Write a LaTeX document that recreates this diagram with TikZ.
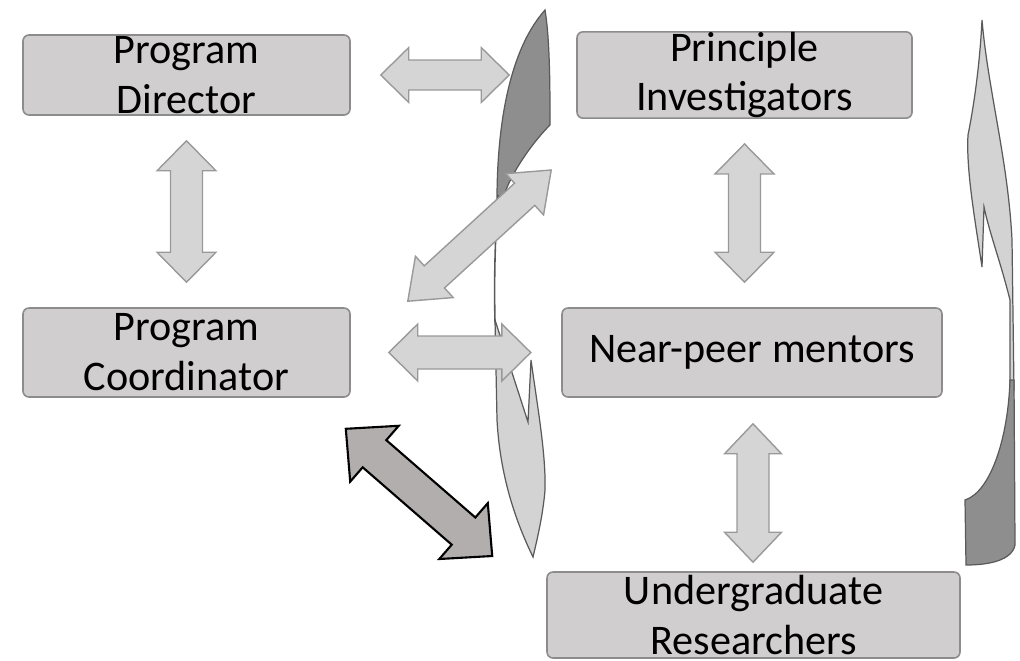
\documentclass[tikz,border=0pt]{standalone}
\usepackage{fontspec}
\setmainfont{Carlito}
\usetikzlibrary{calc}
\definecolor{boxfill}{HTML}{D0CECF}
\definecolor{boxline}{HTML}{8C8C8C}
\definecolor{arrfill}{HTML}{D5D5D5}
\definecolor{arrline}{HTML}{999999}
\definecolor{darkarr}{HTML}{B2AEAD}
\definecolor{swdark}{HTML}{8E8E8E}
\definecolor{swlight}{HTML}{D3D3D3}
\definecolor{swline}{HTML}{5A5A5A}
% #1 style, #2 from, #3 to, #4 shaft half width, #5 head half width, #6 head length
\newcommand\dblarrow[6][]{%
 \draw[#1] (#2) -- ($(#2)!#6!(#3)!#5!90:(#3)$) -- ($(#2)!#6!(#3)!#4!90:(#3)$)
  -- ($(#3)!#6!(#2)!#4!-90:(#2)$) -- ($(#3)!#6!(#2)!#5!-90:(#2)$) -- (#3)
  -- ($(#3)!#6!(#2)!#5!90:(#2)$) -- ($(#3)!#6!(#2)!#4!90:(#2)$)
  -- ($(#2)!#6!(#3)!#4!-90:(#3)$) -- ($(#2)!#6!(#3)!#5!-90:(#3)$) -- cycle;}
\tikzset{
 box/.style={draw=boxline, fill=boxfill, line width=0.9pt, rounded corners=0.12cm,
   inner sep=0pt, align=center, font=\fontsize{24}{28.35}\selectfont},
 lightarrow/.style={draw=arrline, fill=arrfill, line width=0.8pt, line join=miter},
 darkarrow/.style={draw=black, fill=darkarr, line width=1.2pt, line join=miter},
 swooshdark/.style={draw=swline, fill=swdark, line width=0.7pt},
 swooshlight/.style={draw=swline, fill=swlight, line width=0.7pt},
 swooshline/.style={draw=swline, line width=0.9pt}
}
\begin{document}
\begin{tikzpicture}[x=0.02cm, y=-0.02cm]
\useasboundingbox (0,0) rectangle (1020,660);
% boxes
\node[box, minimum width=327*0.02cm, minimum height=80*0.02cm] (pd) at (186.5,75) {Program\\Director};
\node[box, minimum width=335*0.02cm, minimum height=80*0.02cm] (pi) at (744.5,75) {Principle\\Investigators};
\node[box, minimum width=327*0.02cm, minimum height=89*0.02cm] (pc) at (186.5,352.5) {Program\\Coordinator};
\node[box, minimum width=380*0.02cm, minimum height=89*0.02cm] (npm) at (752,352.5) {Near-peer mentors};
\node[box, minimum width=413*0.02cm, minimum height=86*0.02cm] (ur) at (753.5,615) {Undergraduate\\Researchers};
% arrow end points
\coordinate (a1) at ($(pd.south)+(0,25)$);
\coordinate (a2) at ($(pc.north)+(0,-25)$);
\coordinate (b1) at ($(pi.south)+(0,25)$);
\coordinate (b2) at ($(b1|-npm.north)+(0,-25)$);
\coordinate (c1) at ($(npm.south)+(1,26)$);
\coordinate (c2) at ($(c1|-ur.north)+(0,-9)$);
\coordinate (d1) at ($(pd.east)+(30,0)$);
\coordinate (d2) at ($(d1-|pi.west)+(-67,0)$);
\coordinate (e1) at ($(pc.east)+(38,0)$);
\coordinate (e2) at ($(e1)+(142,0)$);
\coordinate (f1) at ($(pc.north east)+(57,-6)$);
\coordinate (f2) at ($(pi.west)+(-25,95)$);
\coordinate (g1) at ($(pc.south east)+(-5,31)$);
\coordinate (g2) at ($(ur.west)+(-54,-59)$);
% arrow behind the left swoosh
\dblarrow[lightarrow]{d1}{d2}{0.3cm}{0.55cm}{0.56cm}
% left swoosh
\draw[swooshdark] (545,10) .. controls (550,40) and (550,90) .. (550,125)
  .. controls (535,140) and (512,170) .. (503,198) -- (497,200)
  .. controls (497,140) and (505,55) .. (545,10) -- cycle;
\draw[swooshline] (498,195) .. controls (495,240) and (494,280) .. (495,322);
\draw[swooshlight] (495,320) -- (528,422) -- (531,360)
  .. controls (538,410) and (546,455) .. (545,490)
  .. controls (543,515) and (537,540) .. (533,557)
  .. controls (515,520) and (500,475) .. (497,420) -- cycle;
% right swoosh
\draw[swooshlight] (982,20) .. controls (988,90) and (1008,160) .. (1012,240)
  -- (1014,390) -- (1010,390) -- (1010,300) .. controls (1000,260) and (990,235) .. (984,207)
  -- (982,267) .. controls (975,220) and (966,170) .. (968,135)
  .. controls (975,100) and (980,60) .. (982,20) -- cycle;
\draw[swooshdark] (1014,380) -- (1015,545) .. controls (1012,560) and (990,565) .. (966,565)
  -- (965,500) .. controls (990,492) and (1008,440) .. (1010,380) -- cycle;
% arrows
\dblarrow[lightarrow]{f1}{f2}{0.3cm}{0.56cm}{0.72cm}
\dblarrow[lightarrow]{e1}{e2}{0.33cm}{0.57cm}{0.58cm}
\dblarrow[lightarrow]{a1}{a2}{0.32cm}{0.59cm}{0.6cm}
\dblarrow[lightarrow]{b1}{b2}{0.32cm}{0.59cm}{0.6cm}
\dblarrow[lightarrow]{c1}{c2}{0.32cm}{0.57cm}{0.6cm}
\dblarrow[darkarrow]{g1}{g2}{0.36cm}{0.74cm}{0.76cm}
\end{tikzpicture}
\end{document}
